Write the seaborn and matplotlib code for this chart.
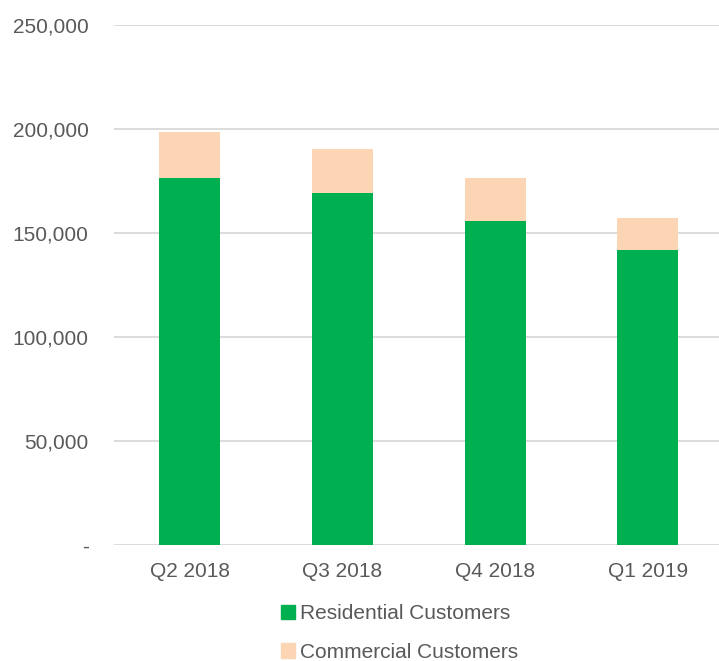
import matplotlib
matplotlib.use("Agg")
import matplotlib.pyplot as plt
from matplotlib.ticker import FuncFormatter
from matplotlib.patches import Patch
import seaborn as sns
import numpy as np

# data
quarters = ["Q2 2018", "Q3 2018", "Q4 2018", "Q1 2019"]
residential = [176300, 169400, 155900, 141800]
commercial = [22100, 21000, 20400, 15400]

green = "#00B050"
peach = "#FCD5B5"
grey_txt = "#595959"

sns.set_style("white")
plt.rcParams["font.family"] = ["Liberation Sans", "DejaVu Sans"]

fig = plt.figure(figsize=(7.19, 6.61), dpi=100)
ax = fig.add_axes([113.5 / 719, 1 - 545 / 661, (719 - 113.5) / 719, 520 / 661])

sns.barplot(x=quarters, y=residential, color=green, width=0.4, ax=ax,
            saturation=1, linewidth=0)
sns.barplot(x=quarters, y=commercial, bottom=residential, color=peach,
            width=0.4, ax=ax, saturation=1, linewidth=0)

ax.set_ylim(0, 250000)
ax.set_xlim(-0.5, -0.5 + (719 - 113.5) / 152.7)
ax.set_yticks(np.arange(0, 250001, 50000))
ax.yaxis.set_major_formatter(FuncFormatter(lambda v, p: "-" if v == 0 else f"{int(v):,}"))
ax.grid(axis="y", color="#D9D9D9", linewidth=1.3)
ax.set_axisbelow(True)
for s in ax.spines.values():
    s.set_visible(False)
ax.tick_params(axis="both", length=0, labelsize=15, colors=grey_txt)
ax.tick_params(axis="y", pad=18)
ax.tick_params(axis="x", pad=12)

handles = [Patch(color=green, label="Residential Customers"),
           Patch(color=peach, label="Commercial Customers")]
fig.legend(handles=handles, loc="center left", bbox_to_anchor=(262 / 719, 1 - 633 / 661),
           frameon=False, fontsize=15, labelcolor=grey_txt, handlelength=0.7,
           handleheight=0.7, handletextpad=0.2, labelspacing=0.95)

fig.savefig("out.png", dpi=100)
